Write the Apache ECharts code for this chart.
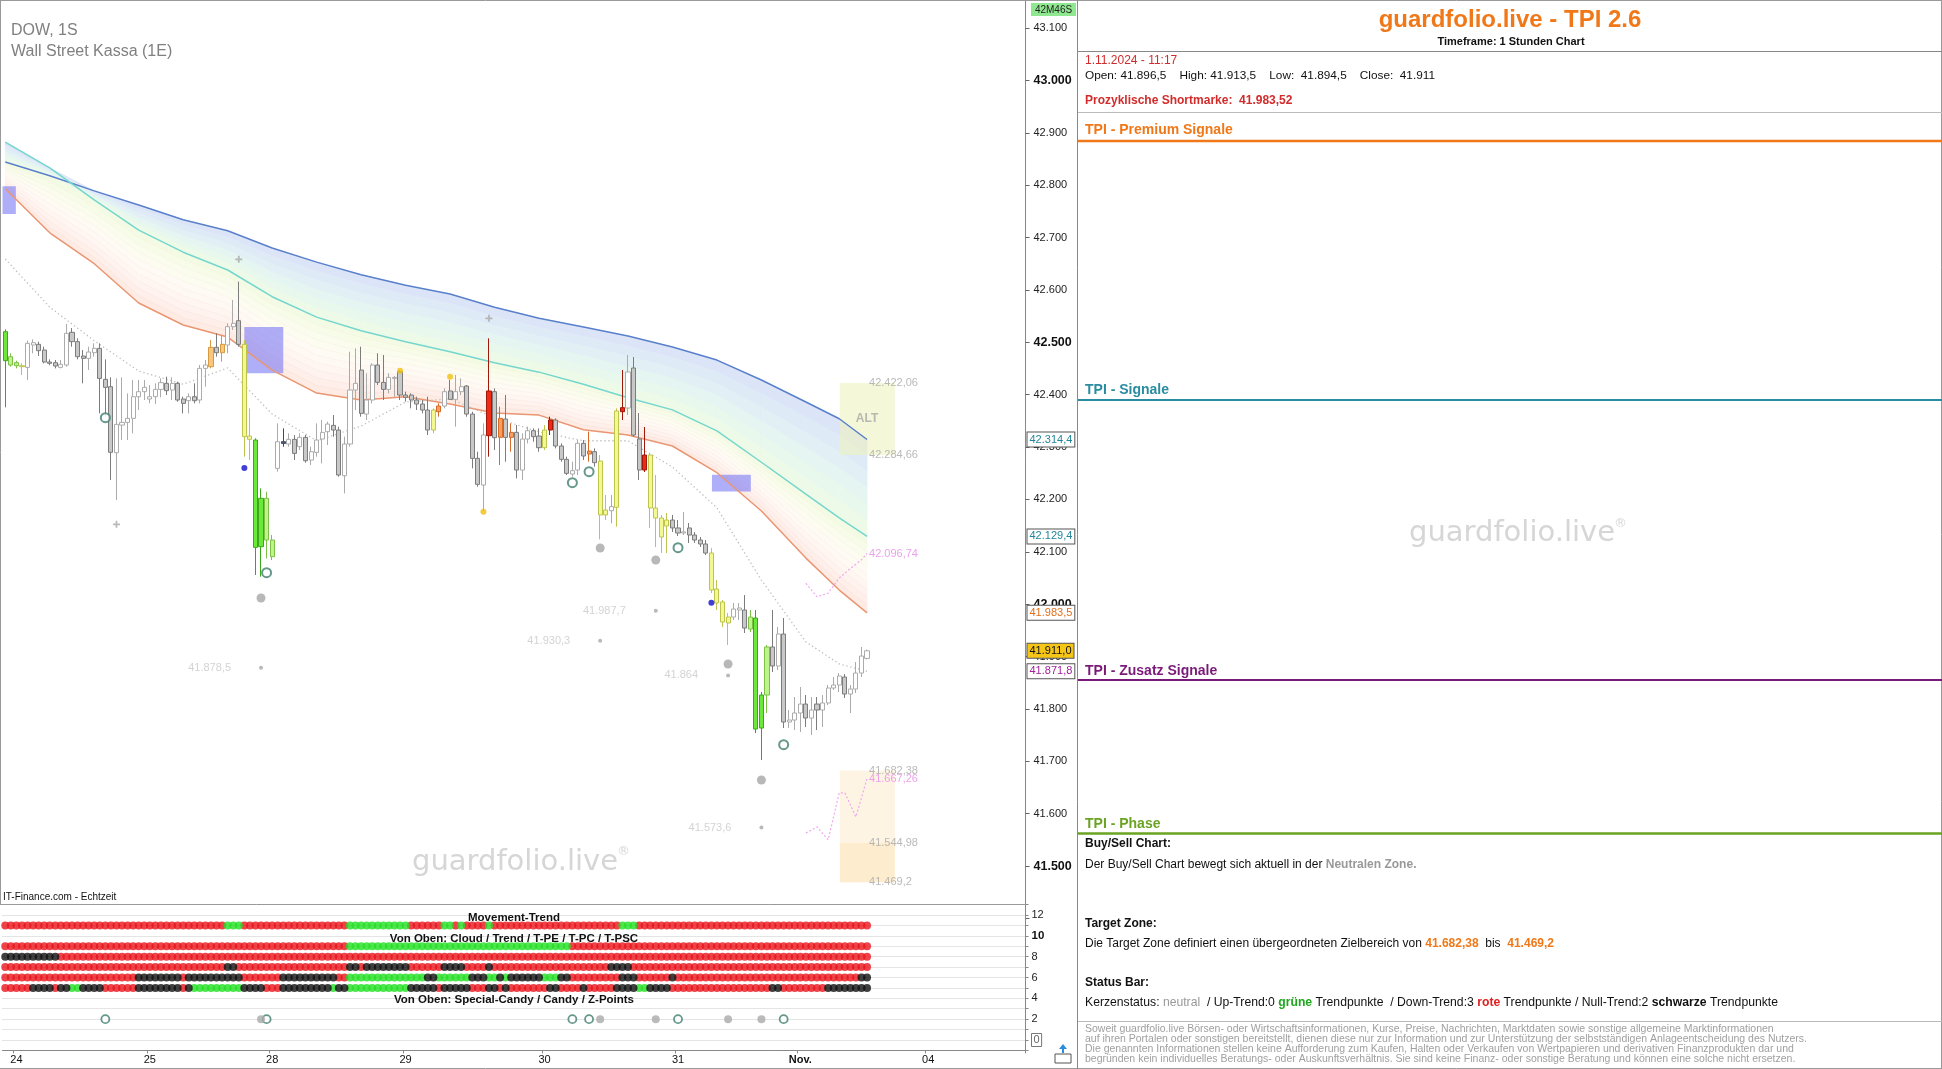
<!DOCTYPE html>
<html><head><meta charset="utf-8">
<script src="https://cdn.jsdelivr.net/npm/echarts@6/dist/echarts.min.js"></script>
<style>html,body{margin:0;padding:0;background:#fff;overflow:hidden}#c{width:1942px;height:1069px}</style>
</head><body><div id="c"></div>
<script>
// ---------- DATA ----------
const dayTicks = ['24','25','28','29','30','31','Nov.','04'];
const dayTickBars = [2,26,48,72,97,121,143,166];
const NCAT = 184;

const candleOpen = [42520.2,42472.5,42461.1,42455.3,42452.1,42494.8,42496.1,42485.2,42462.3,42461.1,42452.1,42456.6,42519.0,42501.2,42473.8,42469.3,42480.1,42488.4,42429.2,42415.2,42289.2,42342.0,42347.1,42354.8,42396.1,42405.7,42391.7,42396.1,42410.1,42421.6,42408.9,42421.6,42391.7,42388.5,42396.1,42389.8,42450.2,42453.4,42490.3,42480.1,42494.8,42529.8,42541.2,42496.1,42321.0,42313.4,42109.8,42202.1,42122.5,42259.3,42307.0,42305.8,42314.7,42300.7,42318.5,42275.2,42289.8,42315.3,42329.3,42341.4,42332.5,42245.3,42305.8,42408.9,42447.0,42363.0,42389.8,42456.6,42423.5,42410.1,42431.1,42443.9,42399.3,42399.3,42389.8,42382.1,42370.7,42332.5,42367.5,42378.3,42407.0,42391.0,42405.7,42416.5,42363.0,42278.4,42227.5,42321.7,42405.7,42318.5,42353.5,42318.5,42328.0,42256.1,42315.3,42331.2,42321.0,42298.8,42332.5,42351.6,42302.0,42276.5,42248.5,42256.2,42307.1,42286.7,42291.2,42273.4,42170.3,42178.5,42184.9,42367.5,42374.5,42450.9,42315.4,42256.2,42284.8,42183.6,42164.5,42149.3,42160.7,42145.5,42135.9,42145.5,42132.1,42122.5,42114.9,42097.7,42029.0,42004.2,41964.1,41975.5,41988.9,41988.9,41952.6,41973.6,41763.6,41826.6,41918.3,41882.0,41943.1,41775.1,41778.9,41792.3,41809.4,41782.7,41809.4,41798.0,41811.4,41840.0,41845.7,41861.0,41828.5,41838.1,41868.6,41896.5];
const candleClose = [42464.9,42456.6,42455.3,42453.4,42498.0,42499.2,42484.0,42462.3,42459.8,42454.7,42457.9,42517.1,42501.2,42472.5,42469.3,42481.4,42488.4,42431.1,42414.0,42289.9,42343.3,42347.1,42354.8,42396.1,42405.7,42414.0,42396.1,42410.1,42422.9,42407.6,42421.6,42389.8,42383.4,42396.1,42388.5,42450.2,42456.6,42490.3,42480.1,42496.1,42529.8,42536.1,42496.1,42319.8,42314.7,42108.5,42202.1,42122.5,42090.7,42310.2,42310.2,42314.7,42287.9,42318.5,42273.9,42291.1,42313.4,42328.0,42343.9,42332.5,42246.6,42305.8,42408.9,42421.6,42364.3,42389.8,42456.6,42423.5,42410.1,42433.0,42433.0,42399.3,42394.9,42389.8,42382.1,42370.7,42332.5,42370.7,42378.3,42405.7,42391.0,42405.7,42415.2,42363.0,42278.4,42228.8,42323.0,42407.0,42317.9,42354.8,42318.5,42328.0,42256.1,42315.3,42331.2,42319.8,42298.8,42332.5,42351.6,42302.0,42276.5,42249.8,42254.9,42307.1,42282.9,42292.4,42270.2,42170.3,42179.8,42186.2,42368.8,42375.2,42443.3,42323.0,42256.2,42284.8,42183.6,42164.5,42128.3,42160.7,42145.5,42135.9,42138.0,42132.1,42122.5,42114.9,42097.7,42027.1,42002.3,41966.0,41975.5,41990.8,41992.7,41954.5,41975.5,41761.7,41826.6,41918.3,41882.0,41943.1,41775.1,41778.9,41792.3,41809.4,41782.7,41798.0,41798.0,41811.4,41840.0,41845.7,41862.9,41828.5,41838.1,41868.6,41901.0,41911.0];
const candleLow = [42375.8,42453.4,42450.2,42437.5,42428.0,42478.9,42473.8,42459.8,42456.0,42450.2,42450.2,42453.4,42491.6,42467.4,42421.6,42447.0,42472.5,42364.3,42358.0,42237.1,42198.9,42313.4,42313.4,42326.1,42370.7,42389.8,42383.4,42382.1,42394.9,42399.3,42389.8,42386.6,42364.3,42364.3,42383.4,42383.4,42415.2,42450.2,42472.5,42463.0,42478.9,42523.4,42491.6,42281.6,42275.2,42055.7,42052.5,42087.5,42084.3,42253.0,42300.7,42300.7,42275.2,42294.3,42270.1,42265.7,42281.6,42268.8,42303.9,42319.8,42243.4,42211.6,42300.7,42370.7,42357.9,42351.6,42383.4,42418.4,42389.8,42402.5,42396.1,42389.8,42386.6,42373.9,42370.7,42364.3,42323.0,42326.1,42357.9,42373.9,42389.8,42338.9,42399.3,42357.9,42259.3,42224.3,42176.6,42281.6,42294.3,42265.7,42272.0,42291.1,42240.2,42237.0,42307.0,42310.2,42291.1,42294.3,42323.0,42297.5,42272.0,42246.6,42243.4,42246.6,42275.3,42272.1,42262.5,42123.8,42160.7,42154.3,42148.0,42351.6,42361.2,42319.2,42237.1,42252.4,42145.5,42109.2,42097.7,42097.7,42137.8,42130.2,42132.1,42116.8,42116.8,42109.2,42093.9,42021.4,41988.9,41956.5,41922.1,41969.8,41969.8,41945.0,41946.9,41754.1,41702.5,41792.3,41870.5,41874.3,41763.6,41763.6,41759.8,41756.0,41765.5,41750.3,41759.8,41765.5,41807.5,41836.2,41832.4,41820.9,41792.3,41830.5,41861.0,41894.5];
const candleHigh = [42524.7,42478.9,42464.9,42459.8,42503.1,42505.6,42501.2,42491.6,42467.4,42466.2,42466.2,42534.9,42527.2,42507.5,42485.2,42491.6,42498.0,42498.0,42467.4,42433.1,42431.1,42433.1,42402.5,42428.0,42428.0,42428.0,42418.4,42421.6,42431.1,42434.3,42433.1,42424.8,42396.1,42402.5,42421.6,42456.6,42466.2,42504.3,42517.1,42513.9,42536.1,42580.7,42615.7,42504.3,42373.9,42316.6,42221.1,42214.8,42132.0,42345.2,42335.7,42326.1,42323.0,42326.1,42323.0,42300.7,42345.2,42351.6,42348.4,42361.1,42338.9,42319.8,42482.0,42488.4,42491.6,42440.7,42459.8,42478.9,42475.7,42440.7,42435.6,42447.0,42405.7,42402.5,42396.1,42389.8,42396.1,42373.9,42383.4,42412.0,42428.0,42437.5,42431.1,42418.4,42367.5,42291.1,42345.2,42507.5,42412.0,42377.0,42399.3,42345.2,42342.0,42326.1,42338.9,42335.7,42335.7,42342.0,42358.0,42354.8,42307.0,42281.6,42272.0,42313.4,42313.4,42329.4,42297.5,42284.8,42208.4,42208.4,42373.9,42447.1,42475.7,42471.9,42365.0,42338.3,42288.6,42246.6,42170.3,42174.1,42170.3,42160.7,42176.0,42155.0,42137.8,42128.3,42122.5,42107.3,42046.2,42008.0,41983.2,42002.3,42002.3,42017.5,41988.9,41988.9,41832.4,41922.1,41988.9,41956.5,41973.6,41798.0,41822.8,41841.9,41826.6,41822.8,41822.8,41826.6,41845.7,41861.0,41868.6,41866.7,41845.7,41889.6,41918.3,41913.5];
const candleKind = ['G','lg','lg','y','w','w','g','g','g','g','w','w','g','g','g','w','w','g','g','g','w','w','w','w','w','w','w','w','w','g','w','g','g','w','g','w','w','o2','g','o2','w','w','g','y','y','G','G','lg','lg','w','d','w','g','w','g','w','w','w','w','g','g','w','w','w','g','w','w','g','g','w','w','g','g','g','g','g','g','y','o','w','g','w','w','g','g','g','w','r','g','o','g','o','g','w','w','g','g','y','r','g','g','g','w','w','g','o','g','y','y','w','y','r','w','g','g','r','y','y','y','y','g','g','w','g','g','g','g','y','y','y','y','w','w','g','lg','G','G','lg','g','w','g','w','w','w','g','w','g','w','w','w','w','g','w','w','w','w'];

// moving-average ribbon (read at knot bars)
const knotIdx = [0,8,16,24,32,40,48,56,64,72,80,88,96,104,112,120,128,136,144,150,155];
const blueV   = [42844,42818,42789,42762,42734,42713,42680,42653,42629,42609,42592,42567,42546,42529,42512,42491,42466,42428,42386,42354,42314.4];
const tealV   = [42882,42833,42772,42714,42672,42638,42587,42548,42522,42501,42482,42461,42443,42420,42394,42371,42331,42271,42210,42165,42129.4];
const orangeV = [42793,42709,42650,42575,42533,42510,42447,42403,42390,42396,42382,42365,42361,42333,42323,42302,42251,42178,42088,42027,41983.5];
const dottedV = [42659,42567,42503,42445,42420,42451,42363,42312,42340,42386,42392,42356,42329,42312,42312,42262,42184,42046,41928,41886,41871.8];
const pinkAIdx = [144,146,148,150,152,154,155];
const pinkAV   = [42040,42014,42021,42050,42068,42085,42096.74];
const pinkBIdx = [144,146,148,150,151,153,155];
const pinkBV   = [41563,41575,41550,41640,41640,41594,41667.26];

// zones
const zoneX0 = [-0.5,43.0,127.1,150.1,150.1,150.1];
const zoneX1 = [1.9,50.0,134.1,160.0,160.0,160.0];
const zoneTop = [42798,42529,42247,42422.06,41682.38,41544.98];
const zoneBottom = [42745,42441,42215,42284.66,41544.98,41469.2];
const zoneKind = ['blue','blue','blue','alt','target1','target2'];

// markers
const bigGrayDots = [[46,42011.8],[107,42107.3],[117,42084.4],[130,41885.8],[136,41664.3]];
const ringDots = [[18,42356],[47,42060.1],[102,42232],[105,42253],[121,42107.8],[140,41731.8]];
const blueDots = [[43,42260],[127,42002.8]];
const yellowDots = [[71,42445.8],[80,42434.3],[86,42176.6]];
const plusMarks = [[20,42152.5],[42,42658.4],[87,42545.8]];
const levelDotBars = [46,107,117,130,136];
const levelDotVals = [41878.5,41930.3,41987.7,41864,41573.6];
const levelDotTexts = ['41.878,5','41.930,3','41.987,7','41.864','41.573,6'];
const sideLabelVals = [42422.06,42284.66,42096.74,41682.38,41667.26,41544.98,41469.2];
const sideLabelTexts = ['42.422,06','42.284,66','42.096,74','41.682,38','41.667,26','41.544,98','41.469,2'];
const sideLabelPink = [0,0,1,0,1,0,0];
const tagVals = [42314.4,42129.4,41983.5,41911.0,41871.8];
const tagTexts = ['42.314,4','42.129,4','41.983,5','41.911,0','41.871,8'];

// status bar rows (run-length)
const row11 = 'R40 G3 R19 G11 R6 G2 R1 G1 R4 G1 R23 G3 R42';
const row9  = 'R62 G40 R54';
const row8  = 'B10 R146';
const row7  = 'R40 B2 R20 B2 R1 B8 R6 B4 R4 B1 R21 B4 R43';
const row6  = 'R24 B8 R1 B10 R7 B10 R2 G14 B2 G6 B3 G2 B1 G1 B6 G3 B2 R9 B3 R6 B1 R33 B2';
const row5  = 'R5 B4 R1 B2 G2 B4 R6 B8 R1 B1 G9 B4 R3 B9 G1 B2 G11 B5 R1 B5 R3 B2 R1 B1 R7 B2 R4 B1 R5 B4 G2 B4 R18 B2 R8 B8';
const zRingBars = [18,47,102,105,121,140];
const zGrayBars = [46,107,117,130,136];

// ---------- STYLES ----------
const FF = "'Liberation Sans', Arial, sans-serif";
const WM = "'DejaVu Sans', Verdana, sans-serif";
const kindStyle = {
  w:{fill:'#FFFFFF',border:'#ABABAB'}, g:{fill:'#C8C8C8',border:'#7C7C7C'}, d:{fill:'#55657C',border:'#3A4A62'},
  G:{fill:'#6CE83A',border:'#3BA81C'}, lg:{fill:'#BDF58A',border:'#7CC048'}, y:{fill:'#F4F890',border:'#BEC450'},
  o:{fill:'#F99E5E',border:'#D86A28'}, o2:{fill:'#F8C77E',border:'#D89A40'}, r:{fill:'#F02A14',border:'#A01808'}
};
const zoneStyle = { blue:'rgba(115,115,245,0.58)', alt:'rgba(236,242,190,0.6)', target1:'rgba(254,243,225,0.9)', target2:'rgba(253,234,200,0.9)' };
const upperStrips = ['#DCE4F8','#DFEAF7','#E2F0F5','#E5F5F1','#E9F8EC','#EEFAE8'];
const lowerStrips = ['#F3FBE5','#F7FCE9','#FAFCED','#FCFCF1','#FEFBF4','#FFF9F4','#FFF6F2','#FEF3EE','#FEEFEA','#FDEBE4'];

// ---------- BUILD ----------
const cats = Array.from({length:NCAT},(_, i)=>String(i));
const candleData = candleOpen.map((o,i)=>{
  const s = kindStyle[candleKind[i]];
  return {value:[o,candleClose[i],candleLow[i],candleHigh[i]],
    itemStyle:{color:s.fill,color0:s.fill,borderColor:s.border,borderColor0:s.border,borderColorDoji:s.border,borderWidth:1}};
});
const pairs = (idx, vals) => idx.map((x,k)=>[x, vals[k]]);
function expandRuns(s){ const out=[]; s.split(' ').forEach(t=>{const c=t[0], n=+t.slice(1); for(let k=0;k<n;k++) out.push(c);}); return out; }
const dotsR=[], dotsG=[], dotsB=[];
[[11,row11],[9,row9],[8,row8],[7,row7],[6,row6],[5,row5]].forEach(([lvl,s])=>{
  expandRuns(s).forEach((c,i)=>{ (c==='R'?dotsR:c==='G'?dotsG:dotsB).push([i,lvl]); });
});
const fmtThousands = v => { const s = String(Math.round(v)); return s.slice(0, s.length-3)+'.'+s.slice(-3); };

function strips(pTop0, pTop1, pBot1, pBot0, colors, lineColor){
  const n = colors.length, out = [];
  const mix = (a,b,f)=>[a[0]+(b[0]-a[0])*f, a[1]+(b[1]-a[1])*f];
  for(let s=0;s<n;s++){
    const f0=s/n, f1=(s+1)/n;
    const pts=[mix(pTop0,pBot0,f0),mix(pTop1,pBot1,f0),mix(pTop1,pBot1,f1),mix(pTop0,pBot0,f1)];
    out.push({type:'polygon',shape:{points:pts},style:{fill:colors[s],stroke:colors[s],lineWidth:0.8}});
    if(lineColor && s>0) out.push({type:'line',shape:{x1:pts[0][0],y1:pts[0][1],x2:pts[1][0],y2:pts[1][1]},style:{stroke:lineColor,lineWidth:0.6}});
  }
  return out;
}
const bandSeries = {
  type:'custom', xAxisIndex:1, yAxisIndex:0, z:1, silent:true, clip:true,
  data: knotIdx.slice(0,-1).map((_,k)=>[k]),
  renderItem(params, api){
    const k = api.value(0);
    const P = (i,v)=>api.coord([i,v]);
    const i0 = knotIdx[k], i1 = knotIdx[k+1];
    const t0 = Math.max(blueV[k],tealV[k]), m0 = Math.min(blueV[k],tealV[k]);
    const t1 = Math.max(blueV[k+1],tealV[k+1]), m1 = Math.min(blueV[k+1],tealV[k+1]);
    const up = strips(P(i0,t0),P(i1,t1),P(i1,m1),P(i0,m0),upperStrips,null);
    const lo = strips(P(i0,m0),P(i1,m1),P(i1,orangeV[k+1]),P(i0,orangeV[k]),lowerStrips,'rgba(236,170,140,0.14)');
    return {type:'group',children:up.concat(lo)};
  }
};
const zoneSeries = {
  type:'custom', xAxisIndex:1, yAxisIndex:0, z:2, silent:true, clip:true,
  data: zoneX0.map((x,k)=>[x,zoneX1[k],zoneTop[k],zoneBottom[k]]),
  renderItem(params, api){
    const a = api.coord([api.value(0),api.value(2)]), b = api.coord([api.value(1),api.value(3)]);
    return {type:'rect',shape:{x:a[0],y:a[1],width:b[0]-a[0],height:b[1]-a[1]},style:{fill:zoneStyle[zoneKind[params.dataIndex]]}};
  }
};
const lineS = (data,color,w,type,z)=>({type:'line',xAxisIndex:1,yAxisIndex:0,data,showSymbol:false,symbol:'none',silent:true,z:z||3,
  lineStyle:{color,width:w,type:type||'solid'}});

const tagColors = ['#23879A','#23879A','#E0701E','#111111','#A0209A'];
const tagBg = ['#FFFFFF','#FFFFFF','#FFFFFF','#F5C518','#FFFFFF'];
const dottedSeries = lineS(pairs(knotIdx,dottedV),'#BDBDBD',1.3,[1.3,2.7],3);
dottedSeries.markLine = {silent:true,symbol:['none','none'],lineStyle:{width:0,color:'rgba(0,0,0,0)'},
  label:{show:true,position:'end',distance:2,fontSize:11,fontFamily:FF,padding:[2,2,1,2],borderWidth:1,borderColor:'#555'},
  data: tagVals.map((v,k)=>({yAxis:v,label:{formatter:tagTexts[k],color:tagColors[k],backgroundColor:tagBg[k]}}))};

function T(x,y,text,o){ o=o||{}; return {type:'text',x,y,silent:true,z:o.z||20,
  style:{text,fill:o.color||'#111',fontSize:o.size||12,fontWeight:o.weight||'normal',fontFamily:o.font||FF,
    align:o.align||'left',verticalAlign:'middle',textAlign:o.align||'left',textVerticalAlign:'middle',rich:o.rich}}; }
function L(x1,y1,x2,y2,color,w){ return {type:'line',silent:true,z:19,shape:{x1,y1,x2,y2},style:{stroke:color,lineWidth:w||1}}; }
const R = (c,w,s)=>({fill:c,fontWeight:w||'normal',fontSize:s||12,fontFamily:FF});

const graphics = [
  L(0,0.5,1942,0.5,'#999'), L(0.5,0,0.5,905,'#999'), L(1941.5,0,1941.5,1069,'#999'), L(0,1068.5,1942,1068.5,'#999'),
  L(1077.5,0,1077.5,1069,'#888'), L(0,904.5,1026,904.5,'#999'),
  L(1078,51.5,1942,51.5,'#888'), L(1078,112.5,1942,112.5,'#BBB'),
  L(1078,141,1942,141,'#F07818',2.5), L(1078,400,1942,400,'#2A8CA0',2),
  L(1078,680,1942,680,'#7A1A78',2), L(1078,833.5,1942,833.5,'#6BA323',2.5),
  L(1078,1021.5,1942,1021.5,'#BBB'),
  {type:'rect',silent:true,z:19,shape:{x:1031,y:3,width:45,height:13},style:{fill:'#8FE88F'}},
  T(1053.5,10,'42M46S',{size:10,align:'center',color:'#222'}),
  {type:'rect',silent:true,z:19,shape:{x:1055,y:1054,width:16,height:9},style:{fill:'#fff',stroke:'#555',lineWidth:1}},
  {type:'polygon',silent:true,z:19,shape:{points:[[1063,1044],[1059,1049],[1062,1049],[1062,1053],[1064,1053],[1064,1049],[1067,1049]]},style:{fill:'#2A8CE0'}},
  T(11,31,'DOW, 1S',{size:16,color:'#808080'}),
  T(11,52,'Wall Street Kassa (1E)',{size:16,color:'#808080'}),
  T(3,897,'IT-Finance.com - Echtzeit',{size:10}),
  T(412,862,'guardfolio.live',{size:29,color:'#D6D6D6',font:WM,z:0}),
  T(617,852,'®',{size:13,color:'#D6D6D6',font:WM,z:0}),
  T(1409,533,'guardfolio.live',{size:29,color:'#D6D6D6',font:WM,z:0}),
  T(1614,524,'®',{size:13,color:'#D6D6D6',font:WM,z:0}),
  T(514,918,'Movement-Trend',{size:11.5,weight:'bold',align:'center'}),
  T(514,939,'Von Oben: Cloud / Trend / T-PE / T-PC / T-PSC',{size:11.5,weight:'bold',align:'center'}),
  T(514,1000,'Von Oben: Special-Candy / Candy / Z-Points',{size:11.5,weight:'bold',align:'center'}),
  T(1510,20,'guardfolio.live - TPI 2.6',{size:24,weight:'bold',color:'#F07818',align:'center'}),
  T(1511,42,'Timeframe: 1 Stunden Chart',{size:11,weight:'bold',align:'center'}),
  T(1085,61,'1.11.2024 - 11:17',{size:12,color:'#D22B2B'}),
  T(1085,76,'Open: 41.896,5    High: 41.913,5    Low:  41.894,5    Close:  41.911',{size:11.8}),
  T(1085,101,'Prozyklische Shortmarke:  41.983,52',{size:12,weight:'bold',color:'#D22B2B'}),
  T(1085,130,'TPI - Premium Signale',{size:14,weight:'bold',color:'#F07818'}),
  T(1085,390,'TPI - Signale',{size:14,weight:'bold',color:'#2A8CA0'}),
  T(1085,671,'TPI - Zusatz Signale',{size:14,weight:'bold',color:'#7A1A78'}),
  T(1085,824,'TPI - Phase',{size:14,weight:'bold',color:'#6BA323'}),
  T(1085,844,'Buy/Sell Chart:',{size:12,weight:'bold'}),
  T(1085,865,'{a|Der Buy/Sell Chart bewegt sich aktuell in der }{n|Neutralen Zone.}',{size:12,rich:{a:R('#111'),n:R('#999','bold')}}),
  T(1085,924,'Target Zone:',{size:12,weight:'bold'}),
  T(1085,944,'{a|Die Target Zone definiert einen übergeordneten Zielbereich von }{o|41.682,38}{a|  bis  }{o|41.469,2}',{size:12,rich:{a:R('#111'),o:R('#F07818','bold')}}),
  T(1085,983,'Status Bar:',{size:12,weight:'bold'}),
  T(1085,1003,'{a|Kerzenstatus: }{n|neutral}{a|  / Up-Trend:0 }{g|grüne}{a| Trendpunkte  / Down-Trend:3 }{r|rote}{a| Trendpunkte / Null-Trend:2 }{b|schwarze}{a| Trendpunkte}',
    {size:12,rich:{a:R('#111',null,12.2),n:R('#999',null,12.2),g:R('#1FA51F','bold',12.2),r:R('#E02020','bold',12.2),b:R('#111','bold',12.2)}}),
  T(1085,1029.5,'Soweit guardfolio.live Börsen- oder Wirtschaftsinformationen, Kurse, Preise, Nachrichten, Marktdaten sowie sonstige allgemeine Marktinformationen',{size:10.5,color:'#A0A0A0'}),
  T(1085,1039.5,'auf ihren Portalen oder sonstigen bereitstellt, dienen diese nur zur Information und zur Unterstützung der selbstständigen Anlageentscheidung des Nutzers.',{size:10.5,color:'#A0A0A0'}),
  T(1085,1049.5,'Die genannten Informationen stellen keine Aufforderung zum Kaufen, Halten oder Verkaufen von Wertpapieren und derivativen Finanzprodukten dar und',{size:10.5,color:'#A0A0A0'}),
  T(1085,1059.5,'begründen kein individuelles Beratungs- oder Auskunftsverhältnis. Sie sind keine Finanz- oder sonstige Beratung und können eine solche nicht ersetzen.',{size:10.5,color:'#A0A0A0'})
];

const hiddenAxis = {show:false,axisLine:{show:false,onZero:false},axisTick:{show:false},axisLabel:{show:false},splitLine:{show:false}};
const option = {
  animation:false, backgroundColor:'#fff',
  textStyle:{fontFamily:FF},
  grid:[
    {left:2.5,width:1023,top:-24.4,height:942.9,outerBoundsMode:'none',containLabel:false},
    {left:2.5,width:1023,top:904.6,height:145.8,outerBoundsMode:'none',containLabel:false}
  ],
  xAxis:[
    Object.assign({type:'category',gridIndex:0,data:cats,boundaryGap:true},hiddenAxis),
    Object.assign({type:'value',gridIndex:0,min:-0.5,max:NCAT-0.5},hiddenAxis),
    {type:'category',gridIndex:1,data:cats,boundaryGap:true,
      axisLine:{show:true,onZero:false,lineStyle:{color:'#888'}},
      axisTick:{show:true,length:3,interval:(i)=>dayTickBars.includes(i),lineStyle:{color:'#888'}},
      axisLabel:{interval:(i)=>dayTickBars.includes(i),margin:4,fontSize:11,color:'#111',fontFamily:FF,
        formatter:(v,i)=>{const k=dayTickBars.indexOf(+v); if(k<0) return ''; return dayTicks[k]==='Nov.'?'{b|Nov.}':dayTicks[k];},
        rich:{b:{fontWeight:'bold',fontSize:11,fontFamily:FF,color:'#111'}}},
      splitLine:{show:false}}
  ],
  yAxis:[
    {type:'value',gridIndex:0,position:'right',min:41400,max:43200,interval:100,
      axisLine:{show:true,onZero:false,lineStyle:{color:'#888'}},axisTick:{show:true,inside:false,length:4,lineStyle:{color:'#666'}},
      splitLine:{show:false},minorTick:{show:false},
      axisLabel:{margin:8,fontSize:11,color:'#222',fontFamily:FF,hideOverlap:false,showMinLabel:true,showMaxLabel:true,
        formatter:v=>{ if(v<41500||v>43100) return ''; const s=fmtThousands(v); return v%500===0?'{b|'+s+'}':s; },
        rich:{b:{fontWeight:'bold',fontSize:12.5,color:'#111',fontFamily:FF}}}},
    {type:'value',gridIndex:1,position:'right',min:-1,max:13,interval:1,
      axisLine:{show:true,onZero:false,lineStyle:{color:'#888'}},axisTick:{show:true,inside:false,length:3,lineStyle:{color:'#888'}},
      splitLine:{show:true,lineStyle:{color:'#C8C8C8',type:'dotted'}},
      axisLabel:{margin:6,fontSize:11,color:'#222',fontFamily:FF,hideOverlap:false,
        formatter:v=>{ if(v<0||v>12||v%2!==0) return ''; if(v===10) return '{b|10}'; if(v===0) return '{z|0}'; return String(v); },
        rich:{b:{fontWeight:'bold',fontSize:11.5,fontFamily:FF,color:'#111'},z:{borderColor:'#777',borderWidth:1,padding:[1,2],fontSize:11,fontFamily:FF,color:'#666'}}}}
  ],
  series:[
    bandSeries,
    zoneSeries,
    lineS(pairs(knotIdx,blueV),'#5A80CC',1.5),
    lineS(pairs(knotIdx,tealV),'#74D6CC',1.5),
    lineS(pairs(knotIdx,orangeV),'#EA9672',1.5),
    dottedSeries,
    lineS(pairs(pinkAIdx,pinkAV),'#EFA8EF',1.2,[2,2]),
    lineS(pairs(pinkBIdx,pinkBV),'#EFA8EF',1.2,[2,2]),
    {type:'candlestick',xAxisIndex:0,yAxisIndex:0,data:candleData,barWidth:4.6,z:4,silent:true},
    {type:'scatter',xAxisIndex:1,yAxisIndex:0,data:bigGrayDots,symbolSize:9,itemStyle:{color:'#A6A6A6'},z:5,silent:true},
    {type:'scatter',xAxisIndex:1,yAxisIndex:0,data:ringDots,symbolSize:9,itemStyle:{color:'#FFFFFF',borderColor:'#3E7E6E',borderWidth:2},z:5,silent:true},
    {type:'scatter',xAxisIndex:1,yAxisIndex:0,data:blueDots,symbolSize:6,itemStyle:{color:'#1010D0'},z:5,silent:true},
    {type:'scatter',xAxisIndex:1,yAxisIndex:0,data:yellowDots,symbolSize:6,itemStyle:{color:'#F0C010'},z:5,silent:true},
    {type:'scatter',xAxisIndex:1,yAxisIndex:0,data:plusMarks,symbol:'path://M3,0H5V3H8V5H5V8H3V5H0V3H3Z',symbolSize:7,itemStyle:{color:'#A8A8A8'},z:5,silent:true},
    {type:'scatter',xAxisIndex:1,yAxisIndex:0,data:levelDotBars.map((b,k)=>[b,levelDotVals[k]]),symbolSize:4,itemStyle:{color:'#A8A8A8'},z:5,silent:true,
      label:{show:true,position:'left',distance:28,fontSize:11,color:'#C8C8C8',fontFamily:FF,formatter:p=>levelDotTexts[p.dataIndex]}},
    {type:'scatter',xAxisIndex:1,yAxisIndex:0,symbolSize:0,z:6,silent:true,
      data:sideLabelVals.map((v,k)=>({value:[155,v],label:{color:sideLabelPink[k]?'#E68AE6':'#A8A8A8'}})),
      label:{show:true,position:'right',distance:2,fontSize:11,fontFamily:FF,formatter:p=>sideLabelTexts[p.dataIndex]}},
    {type:'scatter',xAxisIndex:1,yAxisIndex:0,data:[[155,(zoneTop[3]+zoneBottom[3])/2]],symbolSize:0,z:6,silent:true,
      label:{show:true,position:'inside',formatter:'ALT',fontSize:12,fontWeight:'bold',color:'#A8A8A8',fontFamily:FF}},
    {type:'scatter',xAxisIndex:2,yAxisIndex:1,data:dotsR,symbolSize:8,itemStyle:{color:'#E8141B'},silent:true},
    {type:'scatter',xAxisIndex:2,yAxisIndex:1,data:dotsG,symbolSize:8,itemStyle:{color:'#22E022'},silent:true},
    {type:'scatter',xAxisIndex:2,yAxisIndex:1,data:dotsB,symbolSize:8,itemStyle:{color:'#101010'},silent:true},
    {type:'scatter',xAxisIndex:2,yAxisIndex:1,data:zRingBars.map(b=>[b,2]),symbolSize:8,itemStyle:{color:'#fff',borderColor:'#3E7E6E',borderWidth:1.8},silent:true},
    {type:'scatter',xAxisIndex:2,yAxisIndex:1,data:zGrayBars.map(b=>[b,2]),symbolSize:8,itemStyle:{color:'#AAAAAA'},silent:true}
  ],
  graphic: graphics
};
const chart = echarts.init(document.getElementById('c'),null,{renderer:'canvas',width:1942,height:1069});
chart.setOption(option);
</script></body></html>
